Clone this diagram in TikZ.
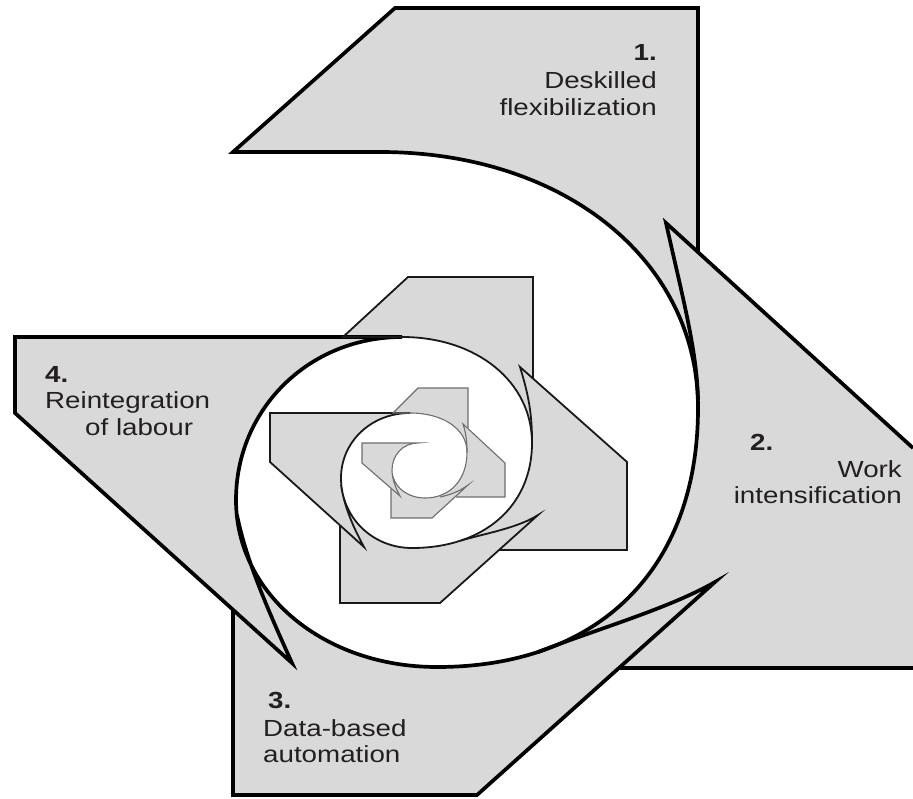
\documentclass[tikz,border=0pt]{standalone}
\usepackage{fontspec}
\setmainfont{Liberation Sans}[FakeStretch=1.19]
\definecolor{armgray}{RGB}{217,217,217}
\definecolor{txt}{RGB}{35,31,32}
\definecolor{smallgray}{RGB}{110,110,110}
\begin{document}
\begin{tikzpicture}[x=1pt,y=-1pt,
  bigline/.style={line width=3.7pt, draw=black, line join=miter, miter limit=25},
  midline/.style={line width=1.8pt, draw=black!90, line join=miter, miter limit=25},
  smallline/.style={line width=1.1pt, draw=smallgray, line join=miter, miter limit=25},
  armtext/.style={font=\fontsize{23.3}{27.5}\selectfont, text=txt, inner sep=0pt},
  armnum/.style={font=\fontsize{23.3}{27.5}\selectfont\bfseries, text=txt, inner sep=0pt}]
\useasboundingbox (0,0) rectangle (913,798);

% ---------- fills: spiral band of each level ----------
% large level
\fill[armgray]
  (380,152) .. controls (564,152) and (698,260) .. (698,408)
  .. controls (698,569) and (599,667) .. (437,667)
  .. controls (324,667) and (236,594) .. (236,500)
  .. controls (236,409) and (309,337) .. (402,337)
  -- (15,337) -- (15,413) -- (233,609) -- (233,795) -- (477,795) -- (618,668)
  -- (913,668) -- (913,448) -- (698,253) -- (698,8) -- (395,8) -- (233,152) -- cycle;
% medium level
\fill[armgray]
  (402,337) .. controls (477,337) and (532,382) .. (532,443)
  .. controls (532,506) and (484,548) .. (412,548)
  .. controls (372,548) and (341,517) .. (341,478)
  .. controls (341,442) and (371,413) .. (410,413)
  -- (270,413) -- (270,462) -- (340,525) -- (340,603) -- (440,603) -- (499,550)
  -- (627,550) -- (627,462) -- (533,378) -- (533,277) -- (408,277) -- (343,337) -- cycle;
% small level
\fill[armgray]
  (410,413) .. controls (443,413) and (467,429) .. (467,452)
  .. controls (467,480) and (450,498) .. (425,498)
  .. controls (407,498) and (392,486) .. (392,470)
  .. controls (392,455) and (403,443) .. (418,443)
  -- (362,443) -- (362,463) -- (391,489) -- (391,518) -- (432,518) -- (456,497)
  -- (505,497) -- (505,463) -- (468,428) -- (468,388) -- (418,388) -- (393,413) -- cycle;

% ---------- outlines: large ----------
\draw[bigline] (698,253) -- (698,8) -- (395,8) -- (233,152) -- (380,152)
  .. controls (564,152) and (698,260) .. (698,408)
  .. controls (698,569) and (599,667) .. (437,667)
  .. controls (324,667) and (236,594) .. (236,500)
  .. controls (236,409) and (309,337) .. (402,337)
  -- (15,337) -- (15,413) -- (292,663)
  .. controls (268,610) and (246,560) .. (237,515);
\draw[bigline] (913,448) -- (666,223) .. controls (682,295) and (697,350) .. (698,400);
\draw[bigline] (618,668) -- (913,668);
\draw[bigline] (233,609) -- (233,795) -- (477,795) -- (715,582)
  .. controls (670,608) and (600,628) .. (538,652);

% ---------- outlines: medium ----------
\draw[midline] (533,378) -- (533,277) -- (408,277) -- (343,337) -- (402,337)
  .. controls (477,337) and (532,382) .. (532,443)
  .. controls (532,506) and (484,548) .. (412,548)
  .. controls (372,548) and (341,517) .. (341,478)
  .. controls (341,442) and (371,413) .. (410,413)
  -- (270,413) -- (270,462) -- (364,547)
  .. controls (352,525) and (344,505) .. (341,485);
\draw[midline] (499,550) -- (627,550) -- (627,462) -- (520,367)
  .. controls (527,390) and (532,410) .. (532,440);
\draw[midline] (340,525) -- (340,603) -- (440,603) -- (538,515)
  .. controls (518,528) and (483,534) .. (461,540.5);

% ---------- outlines: small ----------
\draw[smallline] (468,428) -- (468,388) -- (418,388) -- (393,413) -- (410,413)
  .. controls (443,413) and (467,429) .. (467,452)
  .. controls (467,480) and (450,498) .. (425,498)
  .. controls (407,498) and (392,486) .. (392,470)
  .. controls (392,455) and (403,443) .. (418,443)
  -- (362,443) -- (362,463) -- (400,496)
  .. controls (395,487) and (392,478) .. (392,470);
\draw[smallline] (456,497) -- (505,497) -- (505,463) -- (463,424)
  .. controls (466,433) and (467,442) .. (467,452);
\draw[smallline] (391,489) -- (391,518) -- (432,518) -- (468,485)
  .. controls (460,491) and (450,495) .. (440,497);

% ---------- labels ----------
\node[armnum, anchor=base east] (n1) at (657,60) {1.};
\node[armtext, anchor=base east] (t1a) at (657,88) {Deskilled};
\node[armtext, anchor=base east] (t1b) at (657,115) {flexibilization};
\node[armnum, anchor=base west] (n2) at (750,450) {2.};
\node[armtext, anchor=base east] (t2a) at (902,477) {Work};
\node[armtext, anchor=base east] (t2b) at (902,503) {intensification};
\node[armnum, anchor=base west] (n3) at (268,708) {3.};
\node[armtext, anchor=base west] (t3a) at (263,736) {Data-based};
\node[armtext, anchor=base west] (t3b) at (263,762) {automation};
\node[armnum, anchor=base west] (n4) at (45,382) {4.};
\node[armtext, anchor=base west] (t4a) at (45,408) {Reintegration};
\node[armtext, anchor=base west] (t4b) at (85,435) {of labour};
\end{tikzpicture}
\end{document}
